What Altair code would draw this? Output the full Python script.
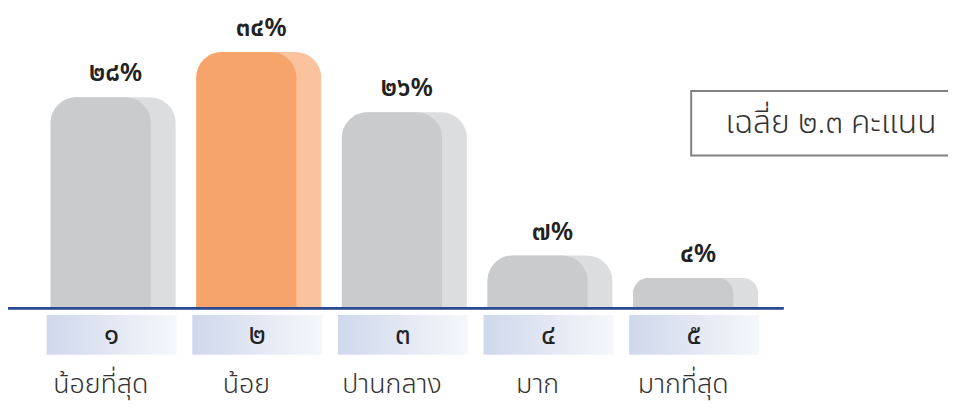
import altair as alt
import pandas as pd

categories = ["น้อยที่สุด", "น้อย", "ปานกลาง", "มาก", "มากที่สุด"]
scale_numbers = ["๑", "๒", "๓", "๔", "๕"]
values = [28, 34, 26, 7, 4]
value_labels = ["๒๘%", "๓๔%", "๒๖%", "๗%", "๔%"]
highlight = "น้อย"
average_text = "เฉลี่ย ๒.๓ คะแนน"

df = pd.DataFrame({
    "idx": list(range(len(categories))),
    "cat": categories,
    "num": scale_numbers,
    "value": values,
    "label": value_labels,
})

FONT = "Noto Sans Thai"
W, H = 948, 397
xs = alt.Scale(domain=[-0.6367, 5.8183], nice=False, zero=False, padding=0)
ys = alt.Scale(domain=[-12.63, 39.61], nice=False, zero=False, padding=0)

X = alt.X("idx:Q", scale=xs, axis=None)
Y = alt.Y("value:Q", scale=ys, axis=None)
is_hl = alt.datum.cat == highlight
base = alt.Chart(df)

back = base.mark_bar(size=126, xOffset=12.5, cornerRadiusTopLeft=26, cornerRadiusTopRight=26).encode(
    x=X, y=Y, y2=alt.datum(0),
    color=alt.condition(is_hl, alt.value("#fbc29e"), alt.value("#dcdddf")),
)
front = base.mark_bar(size=101, cornerRadiusTopLeft=26, cornerRadiusTopRight=26).encode(
    x=X, y=Y, y2=alt.datum(0),
    color=alt.condition(is_hl, alt.value("#f7a36c"), alt.value("#cacbcd")),
)
labels = base.mark_text(xOffset=15, dy=-16, baseline="alphabetic", align="center",
                        fontSize=26, fontWeight=600, color="#222222", font=FONT).encode(
    x=X, y=Y, text="label:N")

axis_line = base.mark_rule(color="#2c4a8f", strokeWidth=2).encode(
    x=alt.value(-1), x2=alt.value(782), y=alt.Y("zero:Q", scale=ys, axis=None)
).transform_calculate(zero="0")

grad = alt.Gradient(gradient="linear", x1=0, x2=1, y1=0, y2=0,
                    stops=[alt.GradientStop(color="#cfd8eb", offset=0),
                           alt.GradientStop(color="#f5f7fb", offset=1)])
boxes = base.mark_bar(size=131, xOffset=11, color=grad).encode(
    x=X, y=alt.value(308), y2=alt.value(348))
box_nums = base.mark_text(xOffset=11, baseline="middle", align="center", fontSize=28,
                          color="#222222", font=FONT).encode(
    x=X, y=alt.value(329), text="num:N")
cat_labels = base.mark_text(baseline="alphabetic", align="center", fontSize=27, fontWeight=300,
                            color="#333333", font=FONT).encode(
    x=X, y=alt.value(387), text="cat:N")

legend_df = pd.DataFrame({"t": [average_text]})
leg_box = alt.Chart(legend_df).mark_rect(fill="white", stroke="#808080", strokeWidth=2).encode(
    x=alt.value(689), x2=alt.value(951), y=alt.value(82), y2=alt.value(147))
leg_text = alt.Chart(legend_df).mark_text(fontSize=32, fontWeight=300, color="#333333", font=FONT,
                                          align="center", baseline="middle").encode(
    x=alt.value(830), y=alt.value(114), text="t:N")

chart = alt.layer(back, front, labels, axis_line, boxes, box_nums, cat_labels, leg_box, leg_text).properties(
    width=W, height=H, autosize=alt.AutoSizeParams(type="none"), padding=0
).configure_view(stroke=None)

chart.save("out.html", embed_options={"renderer": "svg", "actions": False})
